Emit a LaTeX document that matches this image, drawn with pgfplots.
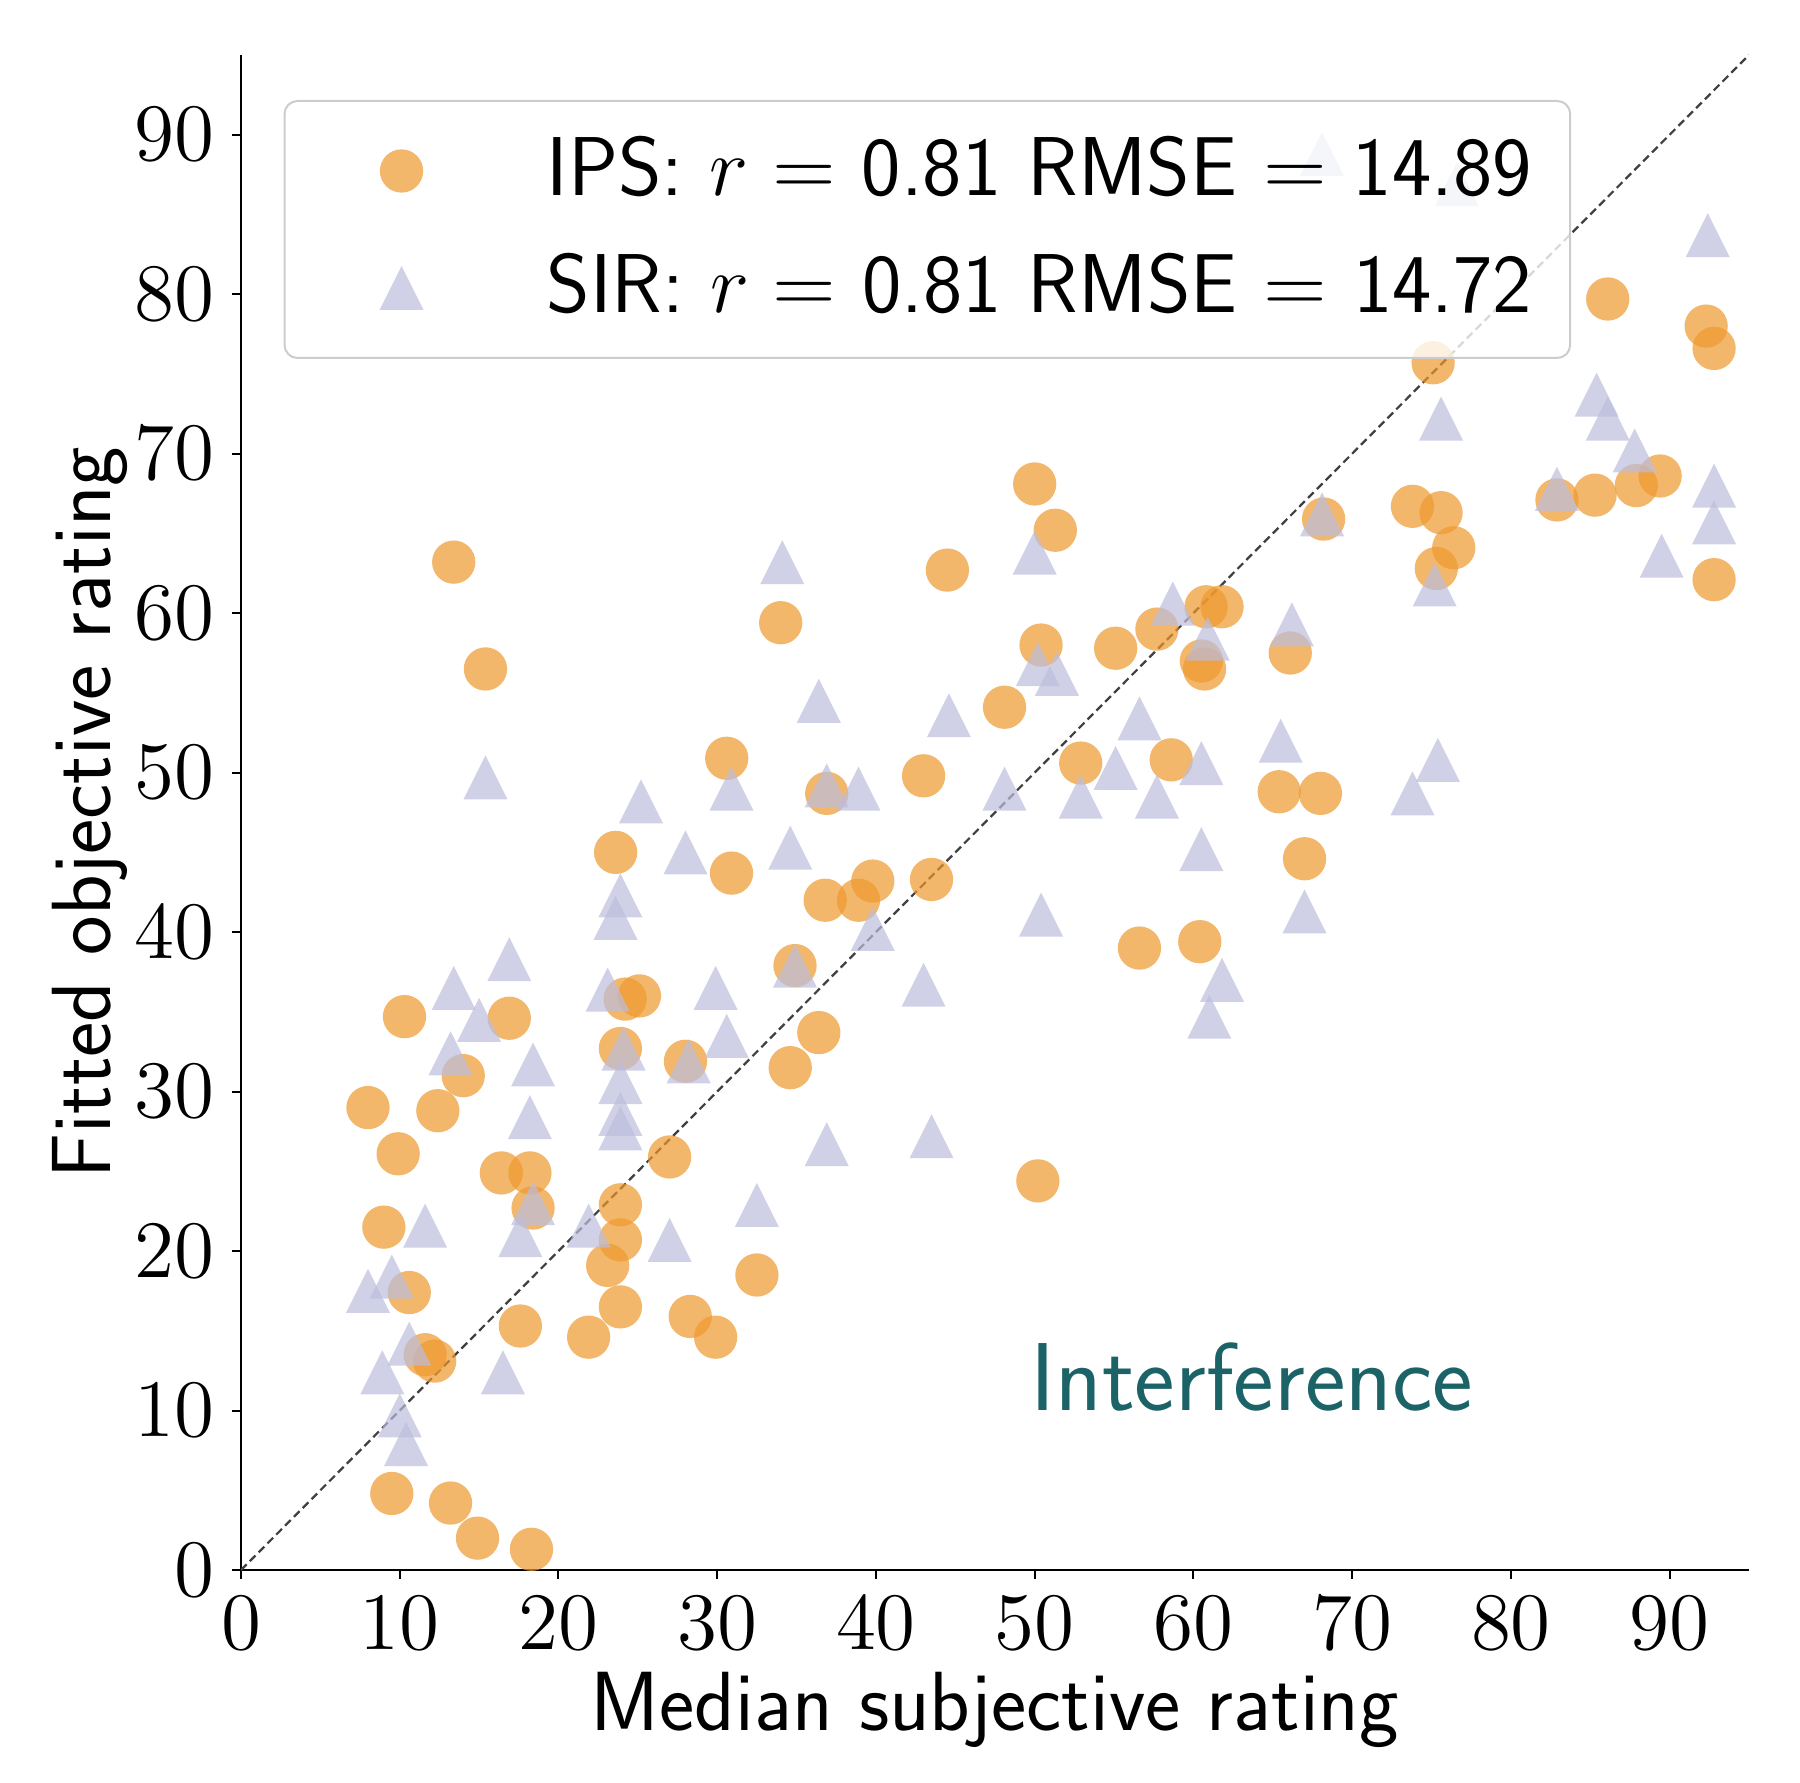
\RequirePackage{fix-cm}
\documentclass[border=0pt]{standalone}
\usepackage{pgfplots}
\pgfplotsset{compat=1.18}

\definecolor{ipsorange}{RGB}{238,152,45}
\definecolor{sirlilac}{RGB}{188,189,220}
\definecolor{noteteal}{RGB}{28,99,104}

% filled disc, no outline
\pgfdeclareplotmark{mdot}{%
  \pgfpathcircle{\pgfpointorigin}{\pgfplotmarksize}%
  \pgfusepathqfill
}
% matplotlib-style "^" marker: as wide as it is tall, centred on its box
\pgfdeclareplotmark{mtri}{%
  \pgfsetcornersarced{\pgfpointorigin}%
  \pgfpathmoveto{\pgfqpoint{0pt}{\pgfplotmarksize}}%
  \pgfpathlineto{\pgfqpoint{-\pgfplotmarksize}{-\pgfplotmarksize}}%
  \pgfpathlineto{\pgfqpoint{\pgfplotmarksize}{-\pgfplotmarksize}}%
  \pgfpathclose
  \pgfusepathqfill
}

\newcommand\lblfont{\fontsize{16.8}{20}\selectfont}
\newcommand\tickfont{\fontsize{16.3}{19}\selectfont}
\newcommand\legfont{\fontsize{16.7}{20}\selectfont}

\begin{document}
\begin{tikzpicture}
\begin{axis}[
  width=301.6pt, height=303pt, scale only axis,
  xmin=0, xmax=95, ymin=0, ymax=95,
  axis lines=left, axis line style={-, line width=0.4pt},
  xtick={0,10,...,90}, ytick={0,10,...,90},
  tick align=outside, major tick length=1.8pt,
  tick style={line width=0.4pt, black},
  tick label style={font=\tickfont},
  xlabel={Median subjective rating},
  ylabel={Fitted objective rating},
  label style={font=\lblfont\sffamily},
  xlabel style={at={(axis description cs:0.5,-0.1056)}, anchor=base},
  ylabel style={at={(axis description cs:-0.1005,0.5)}, anchor=center},
  legend cell align=left,
  legend style={
    at={(0.0282,0.9703)}, anchor=north west,
    draw=black!20, line width=0.4pt, rounded corners=2.6pt,
    fill=white, fill opacity=0.8, text opacity=1,
    font=\legfont\sffamily,
    inner xsep=7.6pt, inner ysep=5.6pt,
    row sep=6.6pt, column sep=13.2pt,
    nodes={inner sep=0pt, text height=13.4pt, text depth=3.4pt},
  },
  legend image code/.code={%
    \pgfpathrectangle{\pgfqpoint{0pt}{-4.4pt}}{\pgfqpoint{31.6pt}{8.8pt}}%
    \pgfusepath{}%
    \draw[mark repeat=2,mark phase=2,#1] plot coordinates {(0pt,0pt) (15.8pt,0pt) (31.6pt,0pt)};
  },
]

\addplot[forget plot, black!75, line width=0.45pt, dash pattern=on 1.6pt off 0.9pt]
  coordinates {(0,0) (95,95)};

\addplot[only marks, mark=mdot, mark size=4.33pt,
  mark options={fill=ipsorange, fill opacity=0.7}] table {
x y
13.4 63.2
15.4 56.5
8.0 29.0
10.3 34.7
9.9 26.1
9.0 21.5
10.6 17.4
11.6 13.5
12.2 13.1
9.5 4.8
13.2 4.2
14.9 2.0
18.3 1.3
12.4 28.8
14.0 31.0
16.9 34.6
16.4 24.9
18.2 24.9
18.4 22.7
17.6 15.3
23.6 45.0
24.2 35.8
25.1 36.0
23.9 32.7
23.9 22.9
23.9 20.7
23.1 19.1
23.9 16.5
21.9 14.6
27.0 25.9
28.0 31.9
28.3 15.9
29.9 14.6
32.5 18.5
30.6 50.9
30.9 43.7
34.0 59.4
34.9 37.9
34.6 31.5
36.4 33.7
36.9 48.7
36.8 42.0
38.9 42.0
39.8 43.2
43.0 49.8
43.5 43.3
44.5 62.7
48.1 54.1
50.0 68.1
51.3 65.2
50.4 58.0
50.2 24.4
52.9 50.6
55.1 57.8
56.6 39.0
57.7 59.0
58.6 50.8
60.4 39.4
60.5 57.0
60.7 56.5
60.8 60.4
61.8 60.4
66.1 57.5
65.4 48.8
68.0 48.7
67.0 44.6
68.2 65.9
73.8 66.7
75.6 66.3
75.3 62.8
76.4 64.1
75.1 75.7
82.9 67.1
85.3 67.4
87.9 68.0
89.4 68.6
86.1 79.7
92.3 78.0
92.8 76.6
92.8 62.1
};
\addlegendentry{IPS: $r =$ 0.81 RMSE $=$ 14.89}

\addplot[only marks, mark=mtri, mark size=4.4pt,
  mark options={fill=sirlilac, fill opacity=0.7}] table {
x y
15.4 49.7
13.4 36.5
13.2 32.4
15.0 34.5
16.9 38.3
18.4 31.7
18.2 28.4
18.4 23.0
17.6 21.0
16.5 12.4
11.6 21.6
8.0 17.5
9.5 18.4
8.9 12.4
10.6 14.2
10.0 9.7
10.4 7.9
12.3 -1.0
25.2 48.2
23.9 42.3
23.6 40.9
23.1 36.4
24.1 32.7
23.9 30.6
23.9 28.6
23.9 27.7
21.9 21.6
27.0 20.7
28.0 45.0
28.2 31.9
29.9 36.5
30.6 33.5
30.9 49.0
32.5 22.9
34.1 63.2
34.6 45.3
34.9 37.9
36.4 54.5
36.9 49.2
36.9 26.7
38.9 49.0
39.8 40.2
43.0 36.7
43.5 27.2
44.6 53.6
48.1 49.0
50.0 63.8
50.2 56.8
51.4 56.2
50.4 41.1
52.9 48.5
55.1 50.3
56.6 53.4
57.7 48.5
58.7 60.6
60.9 58.4
60.5 50.6
60.5 45.2
61.8 37.0
61.0 34.7
65.5 52.0
66.2 59.3
67.0 41.3
68.1 66.2
68.1 88.8
76.6 86.9
73.8 48.7
75.4 50.8
75.2 61.8
75.6 72.2
82.9 67.8
85.4 73.7
86.1 72.2
87.8 70.2
89.5 63.6
92.4 83.7
92.8 68.0
92.8 65.7
};
\addlegendentry{SIR: $r =$ 0.81 RMSE $=$ 14.72}

\node[anchor=base west, inner sep=0pt, text=noteteal,
  font=\fontsize{19.3}{23}\selectfont\sffamily] at (axis cs:49.67,10) {Interference};

\end{axis}
\path ([shift={(-48.2pt,-42.4pt)}]current axis.south west)
  rectangle ([shift={(10.2pt,11pt)}]current axis.north east);
\end{tikzpicture}
\end{document}
